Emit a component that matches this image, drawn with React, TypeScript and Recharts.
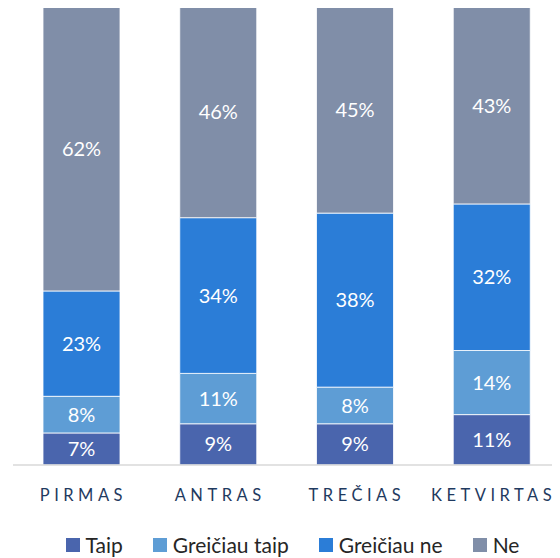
import { BarChart, Bar, XAxis, YAxis, Legend, LabelList } from "recharts";

const categories = ["PIRMAS", "ANTRAS", "TREČIAS", "KETVIRTAS"];
const taip = [7, 9, 9, 11];
const greiciauTaip = [8, 11, 8, 14];
const greiciauNe = [23, 34, 38, 32];
const ne = [62, 46, 45, 43];

const SERIES = [
  { key: "taip", name: "Taip", color: "#4a65ad" },
  { key: "greiciauTaip", name: "Greičiau taip", color: "#5e9dd5" },
  { key: "greiciauNe", name: "Greičiau ne", color: "#2b7dd7" },
  { key: "ne", name: "Ne", color: "#808ea8" },
];

const FONT = "Lato, 'Open Sans', sans-serif";

const data = categories.map((name, i) => ({
  name,
  taip: taip[i],
  greiciauTaip: greiciauTaip[i],
  greiciauNe: greiciauNe[i],
  ne: ne[i],
}));

function CategoryTick(props: any) {
  const { x, y, payload } = props;
  return (
    <text
      x={x + 2}
      y={y + 28}
      textAnchor="middle"
      fill="#1f3a60"
      fontSize={16.5}
      fontFamily={FONT}
      style={{ letterSpacing: "4.5px" }}
    >
      {payload.value}
    </text>
  );
}

// legend drawn from SERIES so the order stays Taip -> Ne
function LegendContent() {
  return (
    <div
      style={{
        display: "flex",
        justifyContent: "center",
        gap: 30,
        fontFamily: FONT,
        fontSize: 21,
        lineHeight: "24px",
        color: "#262626",
        paddingTop: 11,
        paddingLeft: 12,
      }}
    >
      {SERIES.map((s) => (
        <span key={s.key} style={{ display: "flex", alignItems: "center" }}>
          <span
            style={{
              display: "inline-block",
              width: 14,
              height: 14,
              background: s.color,
              marginRight: 6,
            }}
          />
          {s.name}
        </span>
      ))}
    </div>
  );
}

export default function App() {
  return (
    <div style={{ marginTop: -8, marginLeft: -8, width: 560, height: 558 }}>
      <BarChart
        width={560}
        height={558}
        data={data}
        margin={{ top: 7, right: 0, left: 13, bottom: 0 }}
      >
        <XAxis
          dataKey="name"
          tickLine={false}
          axisLine={{ stroke: "#d9d9d9", strokeWidth: 1.5 }}
          height={57}
          tick={<CategoryTick />}
          interval={0}
        />
        <YAxis hide domain={[0, 100]} />
        <Legend verticalAlign="bottom" height={36} content={<LegendContent />} />
        {SERIES.map((s) => (
          <Bar
            key={s.key}
            dataKey={s.key}
            name={s.name}
            stackId="a"
            fill={s.color}
            stroke="#ffffff"
            strokeWidth={0.8}
            barSize={77}
            isAnimationActive={false}
          >
            <LabelList
              dataKey={s.key}
              position="center"
              formatter={(v: any) => `${v}%`}
              fill="#ffffff"
              fontSize={20}
              fontFamily={FONT}
            />
          </Bar>
        ))}
      </BarChart>
    </div>
  );
}
